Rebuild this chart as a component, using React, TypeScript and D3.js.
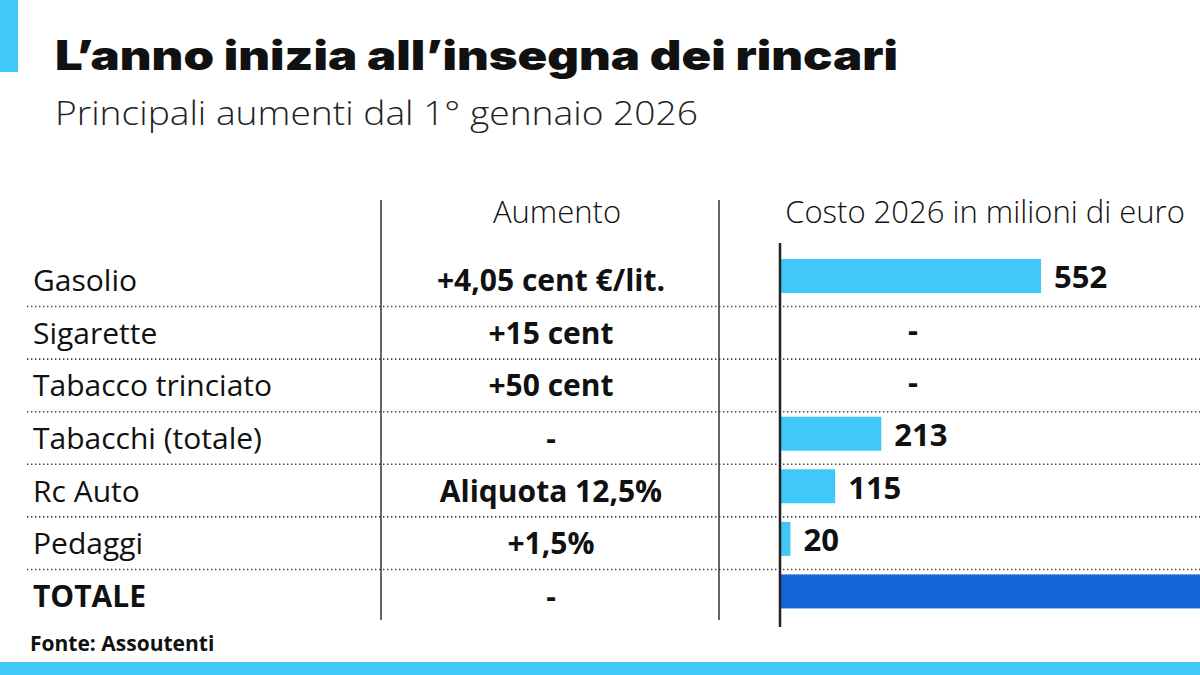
import React, { useEffect, useRef } from "react";
import * as d3 from "d3";

// rows of the table
const categories = [
  "Gasolio",
  "Sigarette",
  "Tabacco trinciato",
  "Tabacchi (totale)",
  "Rc Auto",
  "Pedaggi",
  "TOTALE",
];
const increases = [
  "+4,05 cent €/lit.",
  "+15 cent",
  "+50 cent",
  "-",
  "Aliquota 12,5%",
  "+1,5%",
  "-",
];
// cost 2026, millions of euro (null = not given)
const costs: (number | null)[] = [552, null, null, 213, 115, 20];

const W = 1200;
const H = 675;
const CYAN = "#40c8f8";
const BLUE = "#1565d8";
const SANS = "'Open Sans', sans-serif";

const App = () => {
  const svgRef = useRef<SVGSVGElement>(null);

  useEffect(() => {
    document.body.style.margin = "0";
    const svg = d3.select(svgRef.current);
    svg.selectAll("*").remove();

    const total = d3.sum(costs, (d) => d ?? 0);

    const y = d3.scaleBand<string>().domain(categories).range([254, 622]);
    const x = d3.scaleLinear().domain([0, total]).range([781, 1205]);

    svg.append("rect").attr("width", W).attr("height", H).attr("fill", "#fff");

    // accent + bottom strip
    svg.append("rect").attr("x", 0).attr("y", 0).attr("width", 18).attr("height", 72).attr("fill", CYAN);
    svg.append("rect").attr("x", 0).attr("y", 662).attr("width", W).attr("height", 13).attr("fill", CYAN);

    svg.append("text")
      .attr("x", 55).attr("y", 70)
      .attr("textLength", 843)
      .attr("lengthAdjust", "spacingAndGlyphs")
      .style("font-family", "Inter, sans-serif")
      .style("font-weight", 900)
      .style("font-size", "41px")
      .attr("fill", "#111")
      .text("L’anno inizia all’insegna dei rincari");

    svg.append("text")
      .attr("x", 55).attr("y", 125)
      .attr("textLength", 643)
      .attr("lengthAdjust", "spacingAndGlyphs")
      .style("font-family", SANS)
      .style("font-weight", 300)
      .style("font-size", "33px")
      .attr("fill", "#222")
      .text("Principali aumenti dal 1° gennaio 2026");

    const body = svg.append("g").style("font-family", SANS).attr("fill", "#111");

    // column headers
    body.append("text").attr("x", 557).attr("y", 223).attr("text-anchor", "middle")
      .style("font-size", "31px").style("font-weight", 300).text("Aumento");
    body.append("text").attr("x", 985).attr("y", 223).attr("text-anchor", "middle")
      .style("font-size", "31px").style("font-weight", 300).text("Costo 2026 in milioni di euro");

    // dotted row separators
    body.append("g")
      .selectAll("line")
      .data(categories.slice(0, -1))
      .join("line")
      .attr("x1", 27).attr("x2", W)
      .attr("y1", (d) => y(d)! + y.bandwidth())
      .attr("y2", (d) => y(d)! + y.bandwidth())
      .attr("stroke", "#444")
      .attr("stroke-width", 1.6)
      .attr("stroke-dasharray", "1.4 2.6");

    // column dividers
    body.append("g")
      .selectAll("line")
      .data([381, 719])
      .join("line")
      .attr("x1", (d) => d).attr("x2", (d) => d)
      .attr("y1", 200).attr("y2", 620)
      .attr("stroke", "#333").attr("stroke-width", 1.5);

    // row labels
    body.append("g")
      .selectAll("text")
      .data(categories)
      .join("text")
      .attr("x", 33)
      .attr("y", (d) => y(d)! + y.bandwidth() / 2 + 11)
      .style("font-size", "30px")
      .style("font-weight", (d, i) => (i === categories.length - 1 ? 700 : 400))
      .text((d) => d);

    // increase column
    body.append("g")
      .selectAll("text")
      .data(increases)
      .join("text")
      .attr("x", 551)
      .attr("y", (d, i) => y(categories[i])! + y.bandwidth() / 2 + 11)
      .attr("text-anchor", "middle")
      .style("font-size", "30px")
      .style("font-weight", 700)
      .text((d) => d);

    // bars
    const barData = [...costs, total].map((v, i) => ({ cat: categories[i], v, total: i === categories.length - 1 }));

    body.append("g")
      .selectAll("rect")
      .data(barData.filter((d) => d.v !== null))
      .join("rect")
      .attr("x", x(0))
      .attr("y", (d) => y(d.cat)! + 5)
      .attr("width", (d) => x(d.v as number) - x(0))
      .attr("height", 34)
      .attr("fill", (d) => (d.total ? BLUE : CYAN));

    // value labels (none for the total row)
    body.append("g")
      .selectAll("text")
      .data(barData.filter((d) => !d.total))
      .join("text")
      .attr("x", (d) => (d.v === null ? 913 : x(d.v) + 13))
      .attr("y", (d) => y(d.cat)! + y.bandwidth() / 2 + 8)
      .attr("text-anchor", (d) => (d.v === null ? "middle" : "start"))
      .style("font-size", "31px")
      .style("font-weight", 700)
      .text((d) => (d.v === null ? "-" : String(d.v)));

    // baseline axis
    body.append("line")
      .attr("x1", 780).attr("x2", 780)
      .attr("y1", 243).attr("y2", 627)
      .attr("stroke", "#222").attr("stroke-width", 2.5);

    svg.append("text")
      .attr("x", 30).attr("y", 651)
      .style("font-family", SANS)
      .style("font-weight", 700)
      .style("font-size", "21px")
      .attr("fill", "#111")
      .text("Fonte: Assoutenti");
  }, []);

  return <svg ref={svgRef} width={W} height={H} style={{ display: "block" }} />;
};

export default App;
